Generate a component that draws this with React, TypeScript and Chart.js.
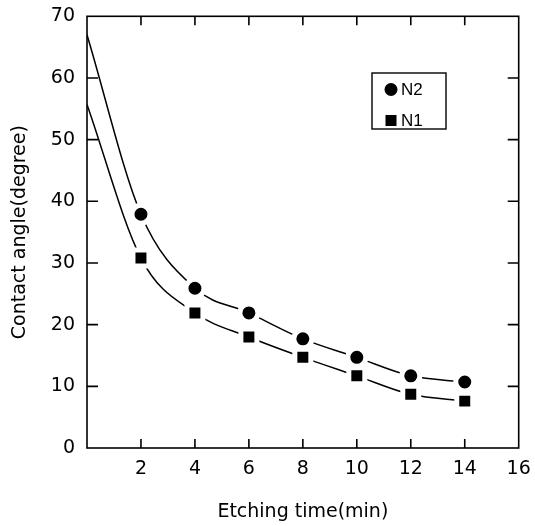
import React, { useEffect, useRef } from "react";
import { Chart, registerables } from "chart.js";

Chart.register(...registerables);

// ---- data ----
const etchTimes = [2, 4, 6, 8, 10, 12, 14];
const n2Angles = [37.9, 25.9, 21.9, 17.7, 14.7, 11.7, 10.7];
const n1Angles = [30.8, 21.9, 18.0, 14.7, 11.7, 8.7, 7.6];
// where the fitted curves begin at the left axis
const curveStartTime = 0;
const n2CurveStart = 67.0;
const n1CurveStart = 55.7;
const seriesLabels = ["N2", "N1"];
const xRange = [0, 16];
const yRange = [0, 70];
const xStep = 2;
const yStep = 10;
const xTitle = "Etching time(min)";
const yTitle = "Contact angle(degree)";

const FONT = "DejaVu Sans";

const framePlugin = {
  id: "frameTicks",
  afterDraw(chart: any) {
    const { ctx, chartArea } = chart;
    const xs = chart.scales.x;
    const ys = chart.scales.y;
    const { left, right, top, bottom } = chartArea;
    ctx.save();
    ctx.strokeStyle = "#000";
    ctx.lineWidth = 1.6;
    ctx.strokeRect(left, top, right - left, bottom - top);
    ctx.beginPath();
    xs.ticks.forEach((t: any) => {
      if (t.value <= xs.min || t.value >= xs.max) return;
      const px = xs.getPixelForValue(t.value);
      ctx.moveTo(px, bottom);
      ctx.lineTo(px, bottom - 9);
      ctx.moveTo(px, top);
      ctx.lineTo(px, top + 9);
    });
    ys.ticks.forEach((t: any) => {
      if (t.value <= ys.min || t.value >= ys.max) return;
      const py = ys.getPixelForValue(t.value);
      ctx.moveTo(left, py);
      ctx.lineTo(left + 11, py);
      ctx.moveTo(right, py);
      ctx.lineTo(right - 11, py);
    });
    ctx.stroke();

    // legend box
    const bx = 372, by = 73, bw = 74, bh = 56;
    ctx.lineWidth = 1.4;
    ctx.strokeRect(bx, by, bw, bh);
    ctx.fillStyle = "#000";
    ctx.beginPath();
    ctx.arc(391, 89.5, 6.5, 0, Math.PI * 2);
    ctx.fill();
    ctx.fillRect(385.5, 115, 11, 11);
    ctx.font = "17px 'Liberation Sans'";
    ctx.textBaseline = "middle";
    ctx.textAlign = "left";
    ctx.fillText(seriesLabels[0], 401, 90);
    ctx.fillText(seriesLabels[1], 401, 121);
    ctx.restore();
  },
};

export default function App() {
  const ref = useRef<HTMLCanvasElement | null>(null);
  useEffect(() => {
    if (!ref.current) return;
    const curveN2 = [{ x: curveStartTime, y: n2CurveStart }, ...etchTimes.map((t, i) => ({ x: t, y: n2Angles[i] }))];
    const curveN1 = [{ x: curveStartTime, y: n1CurveStart }, ...etchTimes.map((t, i) => ({ x: t, y: n1Angles[i] }))];
    const ptsN2 = etchTimes.map((t, i) => ({ x: t, y: n2Angles[i] }));
    const ptsN1 = etchTimes.map((t, i) => ({ x: t, y: n1Angles[i] }));
    const chart = new Chart(ref.current, {
      type: "scatter",
      data: {
        datasets: [
          {
            label: seriesLabels[0],
            data: ptsN2,
            pointStyle: "circle",
            pointRadius: 9,
            pointBackgroundColor: "#000",
            pointBorderColor: "#fff",
            pointBorderWidth: 5,
            showLine: false,
            order: 0,
          },
          {
            label: seriesLabels[1],
            data: ptsN1,
            pointStyle: "rect",
            pointRadius: 11.3,
            pointBackgroundColor: "#000",
            pointBorderColor: "#fff",
            pointBorderWidth: 5,
            showLine: false,
            order: 0,
          },
          {
            label: seriesLabels[0] + " fit",
            data: curveN2,
            showLine: true,
            pointRadius: 0,
            borderColor: "#000",
            borderWidth: 1.5,
            cubicInterpolationMode: "monotone",
            order: 1,
          },
          {
            label: seriesLabels[1] + " fit",
            data: curveN1,
            showLine: true,
            pointRadius: 0,
            borderColor: "#000",
            borderWidth: 1.5,
            cubicInterpolationMode: "monotone",
            order: 1,
          },
        ],
      },
      options: {
        animation: false,
        responsive: false,
        devicePixelRatio: 1,
        layout: { padding: { top: 15, right: 14, bottom: 0, left: 0 } },
        plugins: { legend: { display: false }, tooltip: { enabled: false } },
        scales: {
          x: {
            type: "linear",
            min: xRange[0],
            max: xRange[1],
            grid: { display: false, drawTicks: false },
            border: { display: false },
            ticks: {
              stepSize: xStep,
              padding: 10,
              color: "#000",
              font: { family: FONT, size: 19 },
              callback: (v: any) => (v === xRange[0] ? "" : String(v)),
            },
            title: {
              display: true,
              text: xTitle,
              color: "#000",
              font: { family: FONT, size: 19 },
              padding: { top: 0, bottom: 3 },
            },
            afterFit: (s: any) => {
              s.height = 78;
              s.paddingLeft = 0;
              s.paddingRight = 0;
            },
          },
          y: {
            type: "linear",
            min: yRange[0],
            max: yRange[1],
            grid: { display: false, drawTicks: false },
            border: { display: false },
            ticks: {
              stepSize: yStep,
              padding: 12,
              color: "#000",
              font: { family: FONT, size: 19 },
            },
            title: {
              display: true,
              text: yTitle,
              color: "#000",
              font: { family: FONT, size: 19 },
              padding: { top: 9, bottom: 0 },
            },
            afterFit: (s: any) => {
              s.width = 87;
              s.paddingTop = 0;
              s.paddingBottom = 0;
            },
          },
        },
      } as any,
      plugins: [framePlugin],
    });
    return () => chart.destroy();
  }, []);
  return (
    <div style={{ position: "absolute", left: 0, top: 0, width: 535, height: 526, background: "#fff" }}>
      <canvas ref={ref} width={535} height={526} style={{ display: "block" }} />
    </div>
  );
}
